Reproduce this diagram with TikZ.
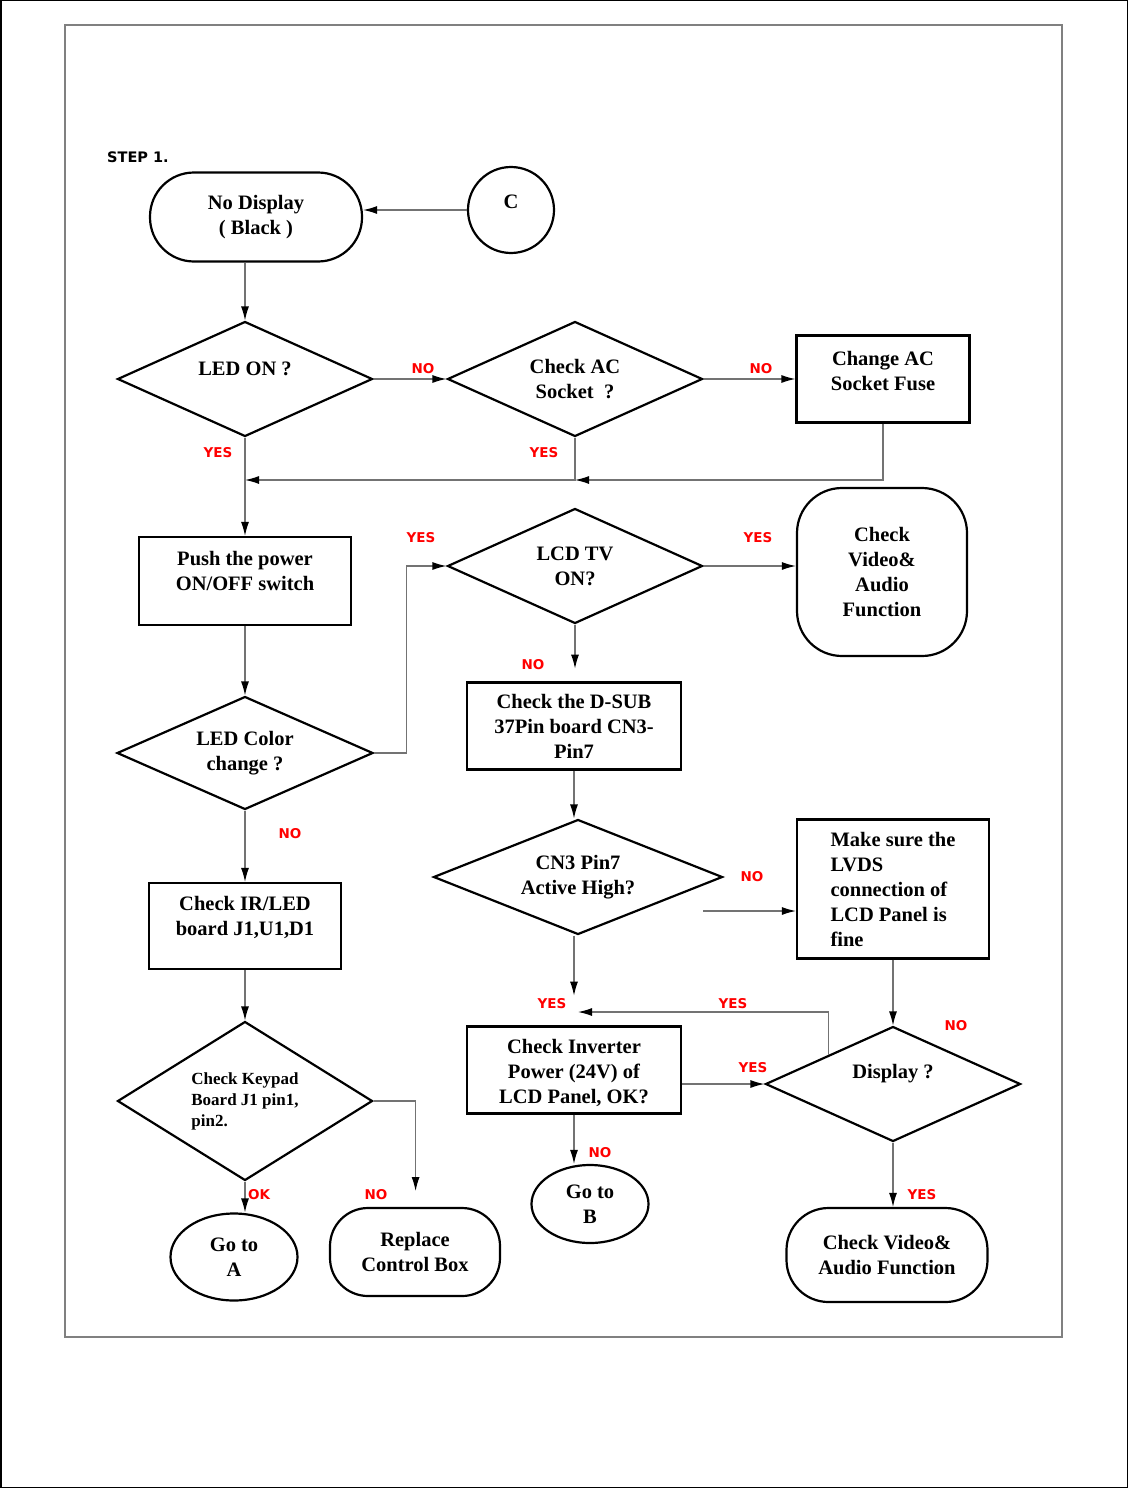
\documentclass[tikz,border=0pt]{standalone}
\usepackage{fontspec}
\setmainfont{Liberation Serif}
\newfontfamily\tagfamily{DejaVu Sans}
\usetikzlibrary{shapes.geometric,arrows.meta}
\newcommand{\boxfont}{\fontsize{20.5}{25}\selectfont\bfseries}
\newcommand{\smallboxfont}{\fontsize{17}{21}\selectfont\bfseries}
\newcommand{\tagfont}{\tagfamily\fontsize{13.5}{16}\selectfont\bfseries}
\tikzset{
  flowbox/.style={rectangle, draw, line width=2.2pt, font=\boxfont, align=center, inner sep=0pt},
  terminal/.style={rectangle, rounded corners=#1, draw, line width=2.2pt, font=\boxfont, align=center, inner sep=0pt},
  decision/.style={diamond, aspect=2.2, draw, line width=2.2pt, font=\boxfont, align=center, inner sep=0pt},
  oval/.style={ellipse, draw, line width=2.2pt, font=\boxfont, align=center, inner sep=0pt},
  boxtext/.style={font=\boxfont, align=center},
  flowline/.style={draw=black!55, line width=1.2pt, -{Latex[length=14pt,width=8pt,color=black]}},
  tag/.style={font=\tagfont, text=red, inner sep=0pt},
}
\begin{document}
\begin{tikzpicture}[x=1pt,y=-1pt]
    \useasboundingbox (0,0) rectangle (1128,1488);
    \draw[black, line width=1.5pt] (0.75,0.75) rectangle (1127.25,1487.25);
    \draw[black!50, line width=1.8pt] (65,25) rectangle (1062,1337);
    \node[font=\tagfamily\fontsize{14.5}{16}\selectfont\bfseries, anchor=west, inner sep=0pt] (step) at (107,157) {STEP 1.};

    % left column
    \node[terminal=44pt, minimum width=212, minimum height=89] (nodisp) at (256,217) {No Display\\( Black )};
    \node[circle, draw, line width=2.2pt, minimum size=86, label={[boxtext,yshift=8pt]center:C}] (c) at (511,210) {};
    \node[decision, minimum width=255, minimum height=115, label={[boxtext,yshift=10pt]center:LED ON ?}] (led) at (245,379) {};
    \node[flowbox, minimum width=212, minimum height=88, label={[boxtext,yshift=10pt]center:Push the power\\ON/OFF switch}] (push) at (245,581) {};
    \node[decision, minimum width=256, minimum height=113] (ledcol) at (245,753) {LED Color\\change ?};
    \node[flowbox, minimum width=192, minimum height=86, label={[boxtext,yshift=9pt]center:Check IR/LED\\board J1,U1,D1}] (ir) at (245,926) {};
    \node[decision, minimum width=255, minimum height=159, font=\smallboxfont, align=left] (key) at (245,1101) {Check Keypad\\Board J1 pin1,\\pin2.};
    \node[oval, minimum width=127, minimum height=87] (gotoa) at (234,1257) {Go to\\A};
    \node[terminal=38pt, minimum width=170, minimum height=88] (replace) at (415,1252) {Replace\\Control Box};

    % middle column
    \node[decision, minimum width=255, minimum height=115] (ac) at (575,379) {Check AC\\Socket~~?};
    \node[decision, minimum width=255, minimum height=115] (lcdtv) at (575,566) {LCD TV\\ON?};
    \node[flowbox, minimum width=214, minimum height=87] (dsub) at (574,726) {Check the D-SUB\\37Pin board CN3-\\Pin7};
    \node[decision, minimum width=289, minimum height=115] (cn3) at (578,877) {CN3 Pin7\\Active High?};
    \node[flowbox, minimum width=214, minimum height=87, label={[boxtext,yshift=-3pt]center:Check Inverter\\Power (24V) of\\LCD Panel, OK?}] (inv) at (574,1070) {};
    \node[oval, minimum width=117, minimum height=78] (gotob) at (590,1204) {Go to\\B};

    % right column
    \node[flowbox, minimum width=173, minimum height=87, label={[boxtext,yshift=8pt]center:Change AC\\Socket Fuse}] (fuse) at (883,379) {};
    \node[terminal=45pt, minimum width=170, minimum height=168] (cva1) at (882,572) {Check\\Video\&\\Audio\\Function};
    \node[flowbox, align=left, minimum width=192, minimum height=139] (lvds) at (893,889) {Make sure the\\LVDS\\connection of\\LCD Panel is\\fine};
    \node[decision, minimum width=255, minimum height=115, label={[boxtext,yshift=10pt]center:Display ?}] (disp) at (893,1084) {};
    \node[terminal=42pt, minimum width=201, minimum height=94] (cva2) at (887,1255) {Check Video\&\\Audio Function};

    \coordinate (acjoin) at (575,480);
    \coordinate (ledjoin) at (245,480);
    \coordinate (cn3out) at (703,911);
    \coordinate (yesback) at (578,1012);

    \draw[flowline] (c.west) -- (nodisp.east |- c.west);
    \draw[flowline] (led.north |- nodisp.south) -- (led.north);
    \draw[flowline] (led.east) -- (ac.west);
    \draw[flowline] (ac.east) -- (fuse.west);
    \draw[flowline] (fuse.south) |- (acjoin);
    \draw[flowline] (ac.south) |- (ledjoin);
    \draw[flowline] (led.south) -- (push.north);
    \draw[flowline] (push.south) -- (ledcol.north);
    \draw[flowline] (ledcol.east) -- ++(32,0) |- (lcdtv.west);
    \draw[flowline] (lcdtv.east) -- (lcdtv.east -| cva1.west);
    \draw[flowline] (lcdtv.south) -- ++(0,44);
    \draw[flowline] (dsub.south) -- (dsub.south |- cn3.north);
    \draw[flowline] (cn3out) -- (cn3out -| lvds.west);
    \draw[flowline] (dsub.south |- cn3.south) -- ++(0,60);
    \draw[flowline] (lvds.south) -- (disp.north);
    \draw[flowline] (disp.north west) |- (yesback);
    \draw[flowline] (inv.east |- disp.west) -- (disp.west);
    \draw[flowline] (inv.south) -- (inv.south |- gotob.north);
    \draw[flowline] (disp.south) -- (disp.south |- cva2.north);
    \draw[flowline] (ledcol.south) -- (ir.north);
    \draw[flowline] (ir.south) -- (key.north);
    \draw[flowline] (key.south) -- (key.south |- gotoa.north);
    \draw[flowline] (key.east) -- ++(42,0) -- ++(0,90);

    \foreach \t/\x/\y [count=\i] in {NO/423/369, YES/218/453, YES/544/453, NO/761/369,
        YES/421/538, YES/758/538, NO/533/665, NO/290/834, NO/752/877, YES/552/1004,
        YES/733/1004, NO/956/1026, YES/753/1068, NO/600/1153, OK/259/1195,
        NO/376/1195, YES/922/1195}
        \node[tag] (tag\i) at (\x,\y) {\t};
\end{tikzpicture}
\end{document}
